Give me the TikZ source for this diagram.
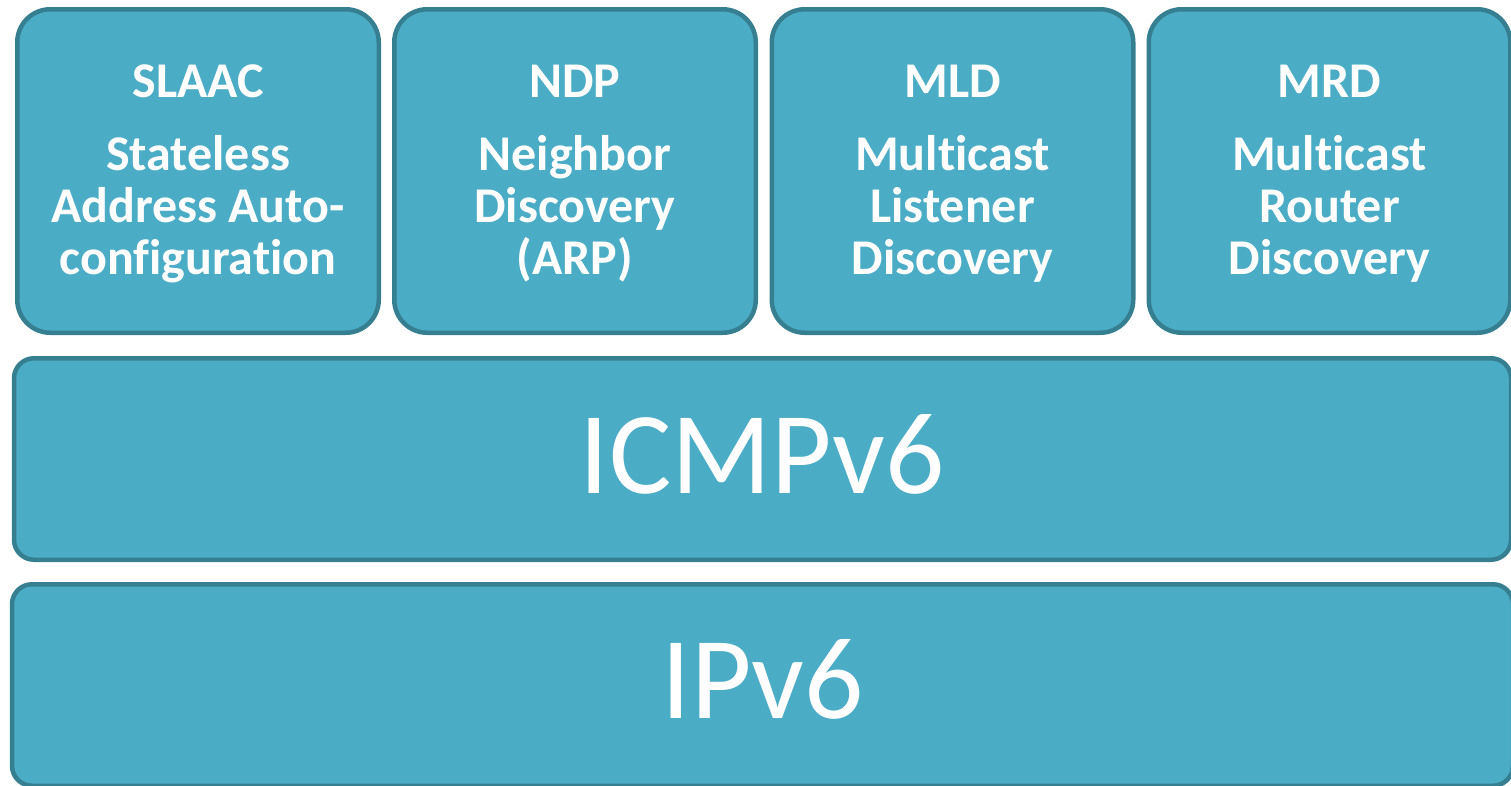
\documentclass[tikz,border=0pt]{standalone}
\usepackage{fontspec}
\setmainfont{Carlito}[Ligatures=NoCommon]
\definecolor{boxfill}{HTML}{4BACC6}
\definecolor{boxline}{HTML}{367F91}
\begin{document}
\begin{tikzpicture}[x=1pt,y=-1pt,
  layer/.style={draw=boxline, fill=boxfill, line width=4.5pt, inner sep=0pt, outer sep=0pt, rectangle},
  topbox/.style={layer, rounded corners=33pt, minimum width=361.5pt, minimum height=323.5pt},
  wide/.style={layer, rounded corners=20pt, minimum width=1497pt, minimum height=201.5pt},
  toptitle/.style={text=white, font=\fontsize{50}{52}\selectfont\bfseries, anchor=base, inner sep=0pt},
  topbody/.style={text=white, font=\fontsize{50}{52}\selectfont\bfseries, anchor=base, inner sep=0pt, align=center},
  bigtext/.style={text=white, font=\fontsize{117}{125}\selectfont, anchor=base, inner sep=0pt}]
\useasboundingbox (0,0) rectangle (1511,785);
\clip (0,0) rectangle (1511,785);
\node[topbox] (b1) at (198,171) {};
\node[topbox] (b2) at (575,171) {};
\node[topbox] (b3) at (952.5,171) {};
\node[topbox] (b4) at (1329.5,171) {};
\node[wide] (icmp) at (762.5,459) {};
\node[wide, minimum width=1501pt] (ip) at (762.5,685) {};
\node[toptitle] (t1) at (198,97) {SLAAC};
\node[toptitle] (t2) at (575,97) {NDP};
\node[toptitle] (t3) at (952.5,97) {MLD};
\node[toptitle] (t4) at (1329.5,97) {MRD};
\node[topbody] (d1) at (198,274) {Stateless\\Address Auto-\\configuration};
\node[topbody] (d2) at (575,274) {Neighbor\\Discovery\\(ARP)};
\node[topbody] (d3) at (952.5,274) {Multicast\\Listener\\Discovery};
\node[topbody] (d4) at (1329.5,274) {Multicast\\Router\\Discovery};
\node[bigtext] (ti) at (762,493) {ICMPv6};
\node[bigtext] (tp) at (763,718) {IPv6};
\end{tikzpicture}
\end{document}
